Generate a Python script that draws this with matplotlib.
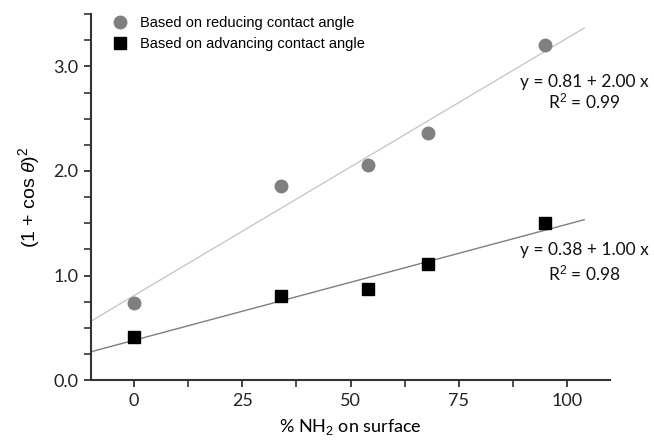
import matplotlib.pyplot as plt
import numpy as np
from matplotlib.ticker import MultipleLocator

nh2 = np.array([0, 34, 54, 68, 95])
reducing = np.array([0.74, 1.86, 2.06, 2.36, 3.20])
advancing = np.array([0.41, 0.80, 0.87, 1.11, 1.50])

fit_x = np.array([-10, 104])

plt.rcParams['mathtext.fontset'] = 'custom'
plt.rcParams['mathtext.rm'] = 'Liberation Sans'
plt.rcParams['mathtext.it'] = 'Liberation Sans:italic'

fig = plt.figure(figsize=(6.54, 4.4), dpi=100)
ax = fig.add_axes([0.139, 0.136, 0.794, 0.832])

# linear fits
p1 = np.polyfit(nh2, reducing, 1)
p2 = np.polyfit(nh2, advancing, 1)
ax.plot(fit_x, np.polyval(p1, fit_x), color='#c8c8c8', lw=1.0, zorder=1)
ax.plot(fit_x, np.polyval(p2, fit_x), color='#7f7f7f', lw=1.0, zorder=1)

ax.plot(nh2, reducing, 'o', color='#808080', ms=9, ls='none',
        label='Based on reducing contact angle', zorder=3)
ax.plot(nh2, advancing, 's', color='black', ms=8, ls='none',
        label='Based on advancing contact angle', zorder=3)

ax.set_xlim(-10, 110)
ax.set_ylim(0, 3.5)
ax.xaxis.set_major_locator(MultipleLocator(25))
ax.xaxis.set_minor_locator(MultipleLocator(12.5))
ax.yaxis.set_major_locator(MultipleLocator(1.0))
ax.yaxis.set_minor_locator(MultipleLocator(0.25))
ax.yaxis.set_major_formatter(lambda v, pos: f'{v:.1f}')
ax.tick_params(which='both', direction='out', length=5, width=1.2, color='#333333')
ax.tick_params(labelsize=13, colors='#222222', pad=4)
for lab in ax.get_xticklabels() + ax.get_yticklabels():
    lab.set_family('Lato')

for s in ['top', 'right']:
    ax.spines[s].set_visible(False)
for s in ['left', 'bottom']:
    ax.spines[s].set_linewidth(1.5)
    ax.spines[s].set_color('#333333')

ax.set_xlabel('% NH$_2$ on surface', fontsize=13, family='Lato', labelpad=6)
ax.set_ylabel(r'(1 + cos $\theta$)$^2$', fontsize=14, family='Liberation Sans', labelpad=8)

eq_font = dict(fontsize=12.5, family='Lato', ha='center', va='center', color='#111111')
ax.text(104, 2.85, 'y = 0.81 + 2.00 x', **eq_font)
ax.text(104, 2.66, 'R$^2$ = 0.99', **eq_font)
ax.text(104, 1.24, 'y = 0.38 + 1.00 x', **eq_font)
ax.text(104, 1.02, 'R$^2$ = 0.98', **eq_font)

ax.legend(loc='upper left', bbox_to_anchor=(0.01, 1.03), frameon=False,
          prop={'family': 'Liberation Sans', 'size': 10.5},
          handletextpad=0.6, labelspacing=0.45, handlelength=1.5)

fig.savefig('out.png', dpi=100)
